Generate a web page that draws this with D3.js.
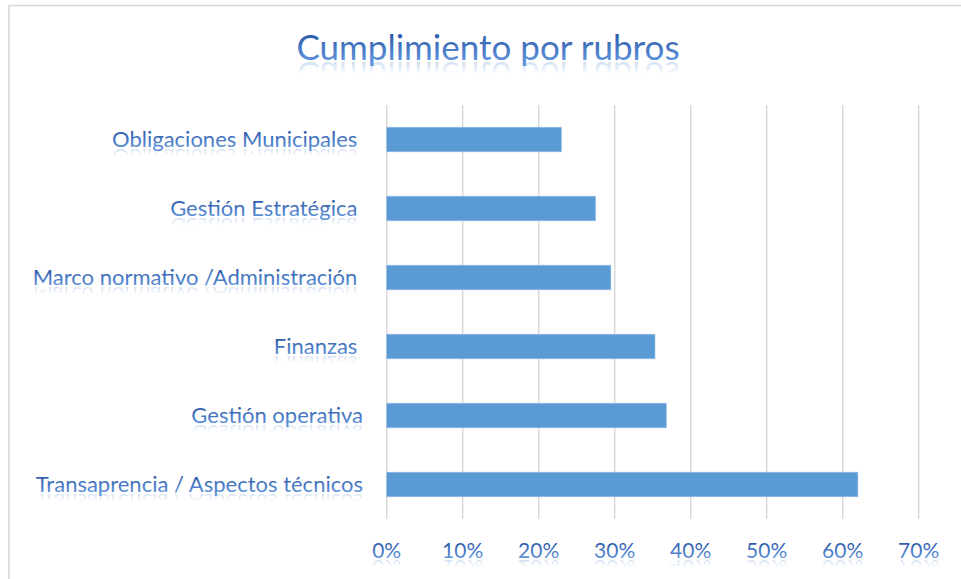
<!DOCTYPE html>
<html>
<head>
<meta charset="utf-8">
<script src="https://cdn.jsdelivr.net/npm/d3@7"></script>
<style>
body{margin:0;background:#fff;overflow:hidden}
text{font-family:Lato,"Open Sans",sans-serif;white-space:pre}
</style>
</head>
<body>
<script>
const WIDTH=961, HEIGHT=579;
const title="Cumplimiento por rubros";
// top to bottom, as in the picture
const categories=["Obligaciones Municipales ","Gestión Estratégica ","Marco normativo /Administración ","Finanzas ","Gestión operativa","Transaprencia / Aspectos técnicos"];
const values=[0.23,0.275,0.295,0.353,0.368,0.62];
const tickValues=[0,0.1,0.2,0.3,0.4,0.5,0.6,0.7];

const svg=d3.select("body").append("svg").attr("width",WIDTH).attr("height",HEIGHT);
const defs=svg.append("defs");

let tg=defs.append("linearGradient").attr("id","txt").attr("x1",0).attr("y1",0).attr("x2",0).attr("y2",1);
tg.append("stop").attr("offset","0.2").attr("stop-color","#2c58a8");
tg.append("stop").attr("offset","0.85").attr("stop-color","#5f93da");
// fade for the reflection (mask)
let fg=defs.append("linearGradient").attr("id","fade").attr("x1",0).attr("y1",0).attr("x2",0).attr("y2",1);
fg.append("stop").attr("offset","0.55").attr("stop-color","#fff").attr("stop-opacity",0);
fg.append("stop").attr("offset","0.95").attr("stop-color","#fff").attr("stop-opacity",0.4);
defs.append("mask").attr("id","reflMask")
    .attr("maskUnits","objectBoundingBox").attr("maskContentUnits","objectBoundingBox")
    .attr("x",0).attr("y",0).attr("width",1).attr("height",1)
  .append("rect").attr("width",1).attr("height",1).attr("fill","url(#fade)");

// chart frame
svg.append("rect").attr("x",9).attr("y",5.5).attr("width",1000).attr("height",1000)
    .attr("fill","none").attr("stroke","#d9d9d9").attr("stroke-width",1.6);

const x=d3.scaleLinear().domain([0,0.7]).range([386.7,918.7]);
const y=d3.scaleBand().domain(categories).range([105,519]).paddingInner(0.643).paddingOuter(0.3215);

// text with office style reflection
let tid=0;
function fancyText(parent,tx,ty,str,size,anchor){
    let id="t"+(tid++);
    let g=parent.append("g");
    g.append("text").attr("id",id).attr("x",tx).attr("y",ty).attr("text-anchor",anchor)
        .attr("font-size",size).attr("fill","url(#txt)").text(str);
    g.append("use").attr("href","#"+id).attr("mask","url(#reflMask)")
        .attr("transform",`translate(0,${2*ty+2}) scale(1,-1)`);
    return g;
}

// grid
svg.append("g").selectAll("line").data(tickValues).join("line")
    .attr("x1",d=>x(d)).attr("x2",d=>x(d)).attr("y1",105).attr("y2",519)
    .attr("stroke","#d9d9d9").attr("stroke-width",1.5);

// bars
svg.append("g").selectAll("rect").data(values).join("rect")
    .attr("x",x(0)).attr("y",(d,i)=>y(categories[i]))
    .attr("width",d=>x(d)-x(0)).attr("height",y.bandwidth())
    .attr("fill","#5b9bd5").attr("stroke","#9cc2e8").attr("stroke-width",0.6);

// category labels
let lab=svg.append("g");
categories.forEach(c=>{
    fancyText(lab,363,y(c)+y.bandwidth()/2+7.5,c,22,"end");
});

// tick labels
let fmt=d3.format(".0%");
let tl=svg.append("g");
tickValues.forEach(t=>{
    fancyText(tl,x(t),558,fmt(t),21,"middle");
});

fancyText(svg,488,60,title,35,"middle");
</script>
</body>
</html>
